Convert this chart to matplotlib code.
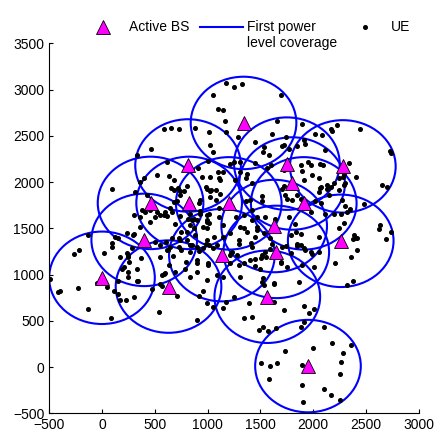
import matplotlib
matplotlib.use("Agg")
import matplotlib.pyplot as plt
from matplotlib.lines import Line2D
from matplotlib.patches import Circle

plt.rcParams.update({
    "font.family": ["Liberation Sans", "DejaVu Sans"],
    "font.size": 10,
})

# ---- data ----
coverage_radius = 500

bs_x = [0, 630, 400, 460, 815, 825, 1340, 1750, 2280, 1800,
        1200, 1910, 1630, 2260, 1650, 1135, 1565, 1950]
bs_y = [965, 870, 1375, 1775, 2180, 1775, 2640, 2200, 2170, 1985,
        1770, 1770, 1525, 1365, 1245, 1210, 760, 10]

ue_x = [
    -490, -420, -400, -230, -265, -215, -135, -130, 15, -45, 45, 85, 95, 95, 150,
    155, 115, 155, 175, 230, 210, 235, 245, 250, 260, 250, 295, 235, 300, 335,
    335, 345, 370, 455, 475, 540, 550, 570, 585, 600, 630, 645, 625, 665, 675,
    690, 710, 750, 805, 850, 895, 900, 920, 960, 990, 1000, 1010, 1055, 915,
    990, 1145, 1170, 1245, 1340, 1390, 570,
    980, 800, 1150, 1220, 1215, 1310, 1420, 1485, 1520, 1570, 1650, 1625, 1630,
    1720, 1735, 1510, 1595, 1660, 1580, 1910, 1880, 1915, 1960, 2005, 2000, 2105,
    2180, 2280, 2355, 2260, 2250, 2105, 2170, 2250, 1905, 1895, 1895, 2210, 2320,
    2380, 2360, 2635, 2685, 2740, 2620, 2410, 2415, 1445, 1505, 1555, 1690, 1865,
    2005, 1990, 1925, 1850, 1745, 1525, 1495, 1410,
    2440, 2730, 2740, 2335, 2400, 2655, 2695, 2485, 2345, 2305, 2320, 2385, 2395,
    2380, 2290, 2285, 2290, 2300,
    1245, 1325, 1690, 1660, 1895, 2220, 2165, 2175, 2020, 2085, 1605, 1445, 1285,
    1745, 1725, 1705, 1915, 1925, 1850, 1530, 1525, 1580, 1770, 2115, 1245, 1305,
    1450, 1600, 1885, 1950, 1975, 2060, 2090, 1310, 1375, 1365, 1420, 1565, 1720,
    1895, 1990, 2050, 1915, 2130, 2060, 2195, 2240, 2290, 2255, 1725, 1255, 1215,
    1170, 1055, 1095, 1145, 1160, 1170, 1010, 1025, 1055, 885, 725, 655, 585, 465,
    330, 620, 1000, 905, 850, 520, 630, 680, 395, 360, 945, 1025, 1105, 1115, 980,
    805, 655, 1150, 1095, 95,
    315, 425, 300, 360, 360, 505, 585, 600, 520, 410, 645, 680, 740, 740, 680, 995,
    1035, 930, 915, 925, 835, 850, 900, 995, 1010, 870, 805, 740, 725, 615, 505,
    285, 995, 1065,
    720, 780, 710, 665, 615, 300, 125, 175, 190, 250, 550, 900, 830, 1000, 725,
    610, 550, 750, 695, 835, 810, 870, 740, 930, 995, 990, 990, 885, 830, 900, 960,
    1010, 1055, 1090, 1075, 1105, 1025, 1025, 1075, 1120, 1105, 835, 790, 900,
    1090, 960, 380, 450, 550,
    1705, 1735, 1750, 1850, 1880, 1800, 1515, 1515, 1405, 1365, 1230, 2050, 2130,
    2165, 2070, 2150, 2240, 2020, 2070, 2115, 2195, 2260, 2275, 1975, 2050, 1975,
    2050, 1910, 1880, 1785, 1705, 1690, 1750, 1895, 2240, 1850, 1830, 1840, 1880,
    1785, 1770, 1640, 1545, 1470, 1470, 1450, 1530, 1595, 1610, 1595, 1545, 1515,
    1450, 1405, 1340, 1295, 1280, 1215, 1230, 1295, 1295, 1420, 1150, 1215, 1310,
    1345, 1375, 1420, 1470, 1420, 1340, 1265, 1150, 1515, 1530, 1625,
]
ue_y = [
    950, 810, 820, 850, 1220, 1270, 1430, 625, 1230, 910, 870, 535, 1345, 1295, 1400,
    935, 825, 795, 730, 730, 1085, 1230, 1210, 1185, 1140, 975, 1425, 1450, 760, 1065,
    935, 925, 1180, 1570, 845, 600, 1190, 995, 1005, 1015, 1105, 1300, 1270, 1400, 1200,
    1030, 770, 1270, 1375, 1320, 1130, 510, 1255, 1515, 940, 1120, 1555, 645, 765,
    690, 635, 705, 755, 525, 690, 875,
    1330, 1140, 975, 1230, 1120, 975, 545, 400, 430, 390, 425, 705, 905,
    615, 175, 45, 15, 45, -125, 660, 430, 490, 580, 625, 210, 435,
    265, 150, 235, 55, -75, -240, -305, -360, -375, -195, 20, 1130, 885,
    930, 1190, 1535, 1380, 1465, 1490, 1390, 1265, 1090, 1175, 1190, 1120, 920,
    1085, 1220, 1265, 1310, 1310, 960, 1065, 1345,
    2570, 2340, 2315, 2210, 2055, 1965, 1950, 1760, 1705, 1740, 1680, 1425, 1400,
    1385, 1555, 2055, 1970, 1990,
    3030, 3060, 2940, 2665, 2625, 2615, 2570, 2550, 2525, 2510, 2520, 2435, 2485,
    2485, 2405, 2395, 2455, 2410, 2390, 2375, 2330, 2290, 2355, 2345, 2220, 2220,
    2210, 2185, 2185, 2220, 2185, 2200, 2185, 2110, 2085, 2040, 1985, 2150, 2135,
    2120, 2075, 2040, 2020, 1965, 1940, 1990, 2040, 2085, 2120, 1955, 2020, 2200,
    3075, 2940, 2795, 2780, 2660, 2545, 2545, 2405, 2330, 2590, 2575, 2585, 2570, 2355,
    2290, 2220, 2225, 2150, 2130, 2075, 2065, 2020, 2040, 2005, 2055, 2055, 2040, 2020, 1950,
    1955, 1940, 2110, 2110, 1925,
    1895, 1860, 1645, 1625, 1515, 1625, 1645, 1675, 1680, 1675, 1715, 1785, 1860, 1900, 1915, 1930,
    1915, 1805, 1770, 1660, 1660, 1590, 1595, 1590, 1660, 1500, 1465, 1375, 1300, 1265, 1355,
    1285, 1375, 1405,
    1935, 1905, 1795, 1680, 1635, 1435, 1410, 1190, 1065, 1025, 895, 1155, 1245, 1100, 1390,
    1355, 1320, 1465, 1545, 1535, 1605, 1605, 1635, 1685, 1645, 1570, 1500, 1425, 1325, 1300, 1285,
    1325, 1290, 1320, 1805, 1715, 1840, 1900, 1915, 1875, 1625, 975, 1065, 1030,
    995, 820, 1700, 1700, 1640,
    1930, 1860, 1815, 1860, 1815, 1805, 1850, 1795, 1805, 1795, 1735, 1895, 1930,
    1950, 1950, 1860, 1915, 1795, 1770, 1660, 1660, 1660, 1805, 1680, 1410, 1245,
    1245, 1285, 1320, 1230, 1300, 1140, 1085, 1105, 1500, 1335, 1545, 1465, 1435,
    1425, 1625, 1605, 1625, 1515, 1480, 1410, 1445, 1390, 1335, 1275, 1245, 1210,
    1170, 1155, 1120, 1105, 1210, 1210, 1245, 1335, 1375, 1300, 1410, 1445, 1515,
    1505, 1465, 1590, 1625, 1695, 1645, 1625, 1535, 920, 885, 895,
]

x_ticks = [-500, 0, 500, 1000, 1500, 2000, 2500, 3000]
y_ticks = [-500, 0, 500, 1000, 1500, 2000, 2500, 3000, 3500]

BLUE = "#0000ff"
MAGENTA = "#ff00ff"

# ---- figure ----
fig = plt.figure(figsize=(4.35, 4.30), dpi=100)
ax = fig.add_axes([0.113, 0.039, 0.85, 0.86])

for bx, by in zip(bs_x, bs_y):
    ax.add_patch(Circle((bx, by), coverage_radius, fill=False,
                        edgecolor=BLUE, linewidth=1.5, zorder=2))

ax.plot(ue_x, ue_y, "o", color="black", markersize=2.6, zorder=3)
ax.plot(bs_x, bs_y, "^", markerfacecolor=MAGENTA, markeredgecolor="black",
        markeredgewidth=0.6, markersize=10, linestyle="none", zorder=4)

ax.set_xlim(-500, 3000)
ax.set_ylim(-500, 3500)
ax.set_xticks(x_ticks)
ax.set_yticks(y_ticks)
ax.tick_params(direction="in", length=3, labelsize=10)
ax.spines["top"].set_visible(False)
ax.spines["right"].set_visible(False)

# ---- legend: one entry each, top-aligned like the original ----
entries = [
    (Line2D([], [], marker="^", linestyle="none", markerfacecolor=MAGENTA,
            markeredgecolor="black", markeredgewidth=0.6, markersize=10),
     "Active BS", 0.187),
    (Line2D([], [], color=BLUE, linewidth=1.5), "First power", 0.460),
    (Line2D([], [], marker="o", linestyle="none", color="black", markersize=2.6),
     "UE", 0.790),
]
for handle, label, x0 in entries:
    fig.legend([handle], [label], loc="upper left", bbox_to_anchor=(x0, 0.9525),
               frameon=False, fontsize=10, handlelength=3.1, handletextpad=0.3,
               borderpad=0, borderaxespad=0)
fig.text(0.568, 1 - 47 / 430, "level coverage", fontsize=10, va="baseline")

fig.savefig("out.png", dpi=100)
